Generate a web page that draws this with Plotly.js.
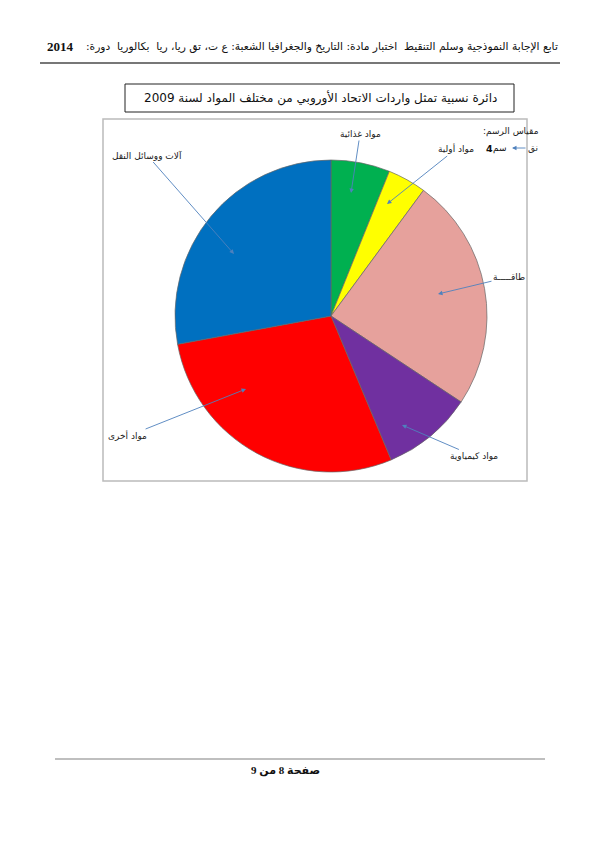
<!DOCTYPE html>
<html><head><meta charset="utf-8">
<script src="https://cdn.plot.ly/plotly-3.0.1.min.js"></script>
<style>html,body{margin:0;padding:0;background:#fff}#chart{width:600px;height:849px}</style>
</head><body><div id="chart"></div>
<script>
// Data (percent share), clockwise from 12 o'clock
var categories = ["مواد غذائية", "مواد أولية", "طاقـــــة", "مواد كيمياوية", "مواد أخرى", "آلات ووسائل النقل"];
var shares = [6.1, 4.0, 24.2, 9.4, 28.4, 27.9];
var colors = ["#00B050", "#FFFF00", "#E6A19C", "#7030A0", "#FF0000", "#0070C0"];

var W = 600, H = 849;
function X(px){ return px / W; }
function Y(py){ return 1 - py / H; }

// Pie geometry in page pixels
var cx = 331, cy = 316, r = 156;

var trace = {
  type: "pie",
  labels: categories,
  values: shares,
  sort: false,
  direction: "clockwise",
  rotation: 0,
  marker: {colors: colors, line: {color: "#666", width: 0.7}},
  textinfo: "none",
  hoverinfo: "none",
  showlegend: false,
  domain: {x: [X(cx - r), X(cx + r)], y: [Y(cy + r), Y(cy - r)]}
};

var arFont = "DejaVu Sans, Liberation Serif, sans-serif";
var labelFont = {family: arFont, size: 9, color: "#1a1a1a"};
var arrowCol = "#4F81BD";
var RLM = "\u200F";

// label text centre and arrow tip (page px)
var labelPos = [
  {t: [360, 134], tip: [351, 193]},
  {t: [456, 149], tip: [387, 204]},
  {t: [509, 277], tip: [438, 294]},
  {t: [474, 456], tip: [402, 425]},
  {t: [128, 436], tip: [246, 389]},
  {t: [147, 155], tip: [234, 254]}
];

var annotations = [];
categories.forEach(function(c, i){
  var p = labelPos[i];
  annotations.push({
    xref: "paper", yref: "paper",
    x: X(p.tip[0]), y: Y(p.tip[1]),
    ax: p.t[0] - p.tip[0], ay: p.t[1] - p.tip[1],
    text: c, font: labelFont,
    showarrow: true, arrowhead: 2, arrowsize: 1, arrowwidth: 0.9,
    arrowcolor: arrowCol, standoff: 0
  });
});

// header, title, scale, footer
annotations.push({xref:"paper", yref:"paper", x: X(560), y: Y(47), xanchor:"right", yanchor:"middle",
  text: "تابع الإجابة النموذجية وسلم التنقيط  اختبار مادة: التاريخ والجغرافيا الشعبة: ع ت، تق ريا، ريا  بكالوريا  دورة:" + RLM,
  font: {family: arFont, size: 10.7, color: "#111"}, showarrow: false});
annotations.push({xref:"paper", yref:"paper", x: X(45), y: Y(47), xanchor:"left", yanchor:"middle",
  text: "<b>2014</b>", font: {family: "Liberation Serif, serif", size: 13, color: "#111"}, showarrow: false});
annotations.push({xref:"paper", yref:"paper", x: X(320), y: Y(98), xanchor:"center", yanchor:"middle",
  text: "دائرة نسبية تمثل واردات الاتحاد الأوروبي من مختلف المواد لسنة 2009",
  font: {family: "DejaVu Sans, Liberation Serif, sans-serif", size: 12, color: "#111"}, showarrow: false});
annotations.push({xref:"paper", yref:"paper", x: X(541), y: Y(131), xanchor:"right", yanchor:"middle",
  text: "مقياس الرسم:" + RLM, font: {family: arFont, size: 9, color: "#222"}, showarrow: false});
annotations.push({xref:"paper", yref:"paper", x: X(495), y: Y(148), xanchor:"right", yanchor:"middle",
  text: "<b>4</b>", font: {family: arFont, size: 9.5, color: "#111"}, showarrow: false});
annotations.push({xref:"paper", yref:"paper", x: X(509), y: Y(148), xanchor:"right", yanchor:"middle",
  text: "سم", font: {family: arFont, size: 9, color: "#111"}, showarrow: false});
annotations.push({xref:"paper", yref:"paper", x: X(540), y: Y(148), xanchor:"right", yanchor:"middle",
  text: "نق", font: {family: arFont, size: 9, color: "#222"}, showarrow: false});
annotations.push({xref:"paper", yref:"paper", x: X(512), y: Y(148), ax: 15, ay: 0,
  text: "", showarrow: true, arrowhead: 2, arrowwidth: 0.9, arrowcolor: arrowCol});
annotations.push({xref:"paper", yref:"paper", x: X(285), y: Y(770), xanchor:"center", yanchor:"middle",
  text: "<b>صفحة 8 من 9</b>", font: {family: "Liberation Serif, DejaVu Sans, serif", size: 11, color: "#111"}, showarrow: false});

var shapes = [
  {type:"line", xref:"paper", yref:"paper", x0:X(40), x1:X(560), y0:Y(63), y1:Y(63), line:{color:"#777", width:2}},
  {type:"rect", xref:"paper", yref:"paper", x0:X(125), x1:X(514), y0:Y(112), y1:Y(84), line:{color:"#222", width:1}},
  {type:"rect", xref:"paper", yref:"paper", x0:X(103), x1:X(527), y0:Y(481), y1:Y(119), line:{color:"#bbb", width:1.5}},
  {type:"line", xref:"paper", yref:"paper", x0:X(55), x1:X(545), y0:Y(759), y1:Y(759), line:{color:"#aaa", width:1.5}}
];

var layout = {
  width: W, height: H,
  margin: {l:0, r:0, t:0, b:0},
  paper_bgcolor: "#fff", plot_bgcolor: "#fff",
  xaxis: {visible:false, range:[0,1]}, yaxis: {visible:false, range:[0,1]},
  showlegend: false,
  annotations: annotations,
  shapes: shapes
};

Plotly.newPlot("chart", [trace], layout, {staticPlot: true, displayModeBar: false});
</script></body></html>
